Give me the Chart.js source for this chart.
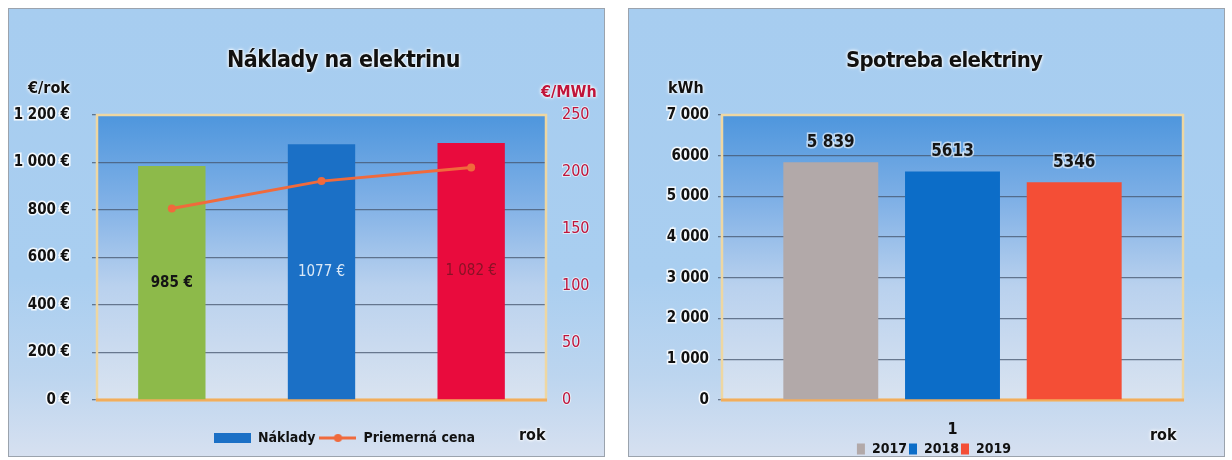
<!DOCTYPE html>
<html>
<head>
<meta charset="utf-8">
<script src="https://cdn.jsdelivr.net/npm/chart.js@4.4.1/dist/chart.umd.min.js"></script>
<style>
  body { margin: 0; background: #fff; width: 1232px; height: 460px; overflow: hidden; position: relative;
    font-family: 'Liberation Sans Narrow', 'DejaVu Sans Condensed', 'Noto Sans', sans-serif; }
  .panel { position: absolute; top: 8px; width: 597px; height: 449px; box-sizing: border-box;
    border: 1px solid #9ba3ad;
    background: linear-gradient(to bottom, #a7cdf0 0%, #a9cef0 60%, #bcd5ef 82%, #d6e0f0 100%); }
  .wrap { position: absolute; left: 0; top: 0; width: 595px; height: 447px; }
  .lbl { position: absolute; font-weight: bold; white-space: nowrap; line-height: 1; color: #111;
    text-shadow: 0 0 2px #fff, 0 0 3px #fff, 0 0 4px rgba(255,255,255,0.8); }
</style>
</head>
<body>
<div class="panel" style="left:8px"><div class="wrap"><canvas id="cost"></canvas></div></div>
<div class="panel" style="left:628px"><div class="wrap"><canvas id="usage"></canvas></div></div>

<div class="lbl" style="left:227px;top:48px;font-size:23px;letter-spacing:-0.5px">Náklady na elektrinu</div>
<div class="lbl" style="left:28px;top:80px;font-size:16px">€/rok</div>
<div class="lbl" style="left:541px;top:84px;font-size:16px;color:#c0143a">€/MWh</div>
<div class="lbl" style="left:519px;top:427px;font-size:16px">rok</div>

<div class="lbl" style="left:846px;top:49px;font-size:22px;letter-spacing:-0.7px">Spotreba elektriny</div>
<div class="lbl" style="left:668px;top:80px;font-size:16px">kWh</div>
<div class="lbl" style="left:1150px;top:427px;font-size:16px">rok</div>

<script>
  var FONT = "'Liberation Sans Narrow', 'DejaVu Sans Condensed', 'Noto Sans', sans-serif";

  // data
  var years = ['2017', '2018', '2019'];
  var costs = [985, 1077, 1082];
  var costLabels = ['985 €', '1077 €', '1 082 €'];
  var prices = [168, 192, 204];
  var usageCategory = ['1'];
  var consumption = [5839, 5613, 5346];
  var consumptionLabels = ['5 839', '5613', '5346'];
  var kwhTicks = ['0', '1 000', '2 000', '3 000', '4 000', '5 000', '6000', '7 000'];

  var costColors = ['#8dba4a', '#1b70c6', '#e90b3d'];
  var costLabelColors = ['#151515', '#dbe8f6', '#8a1226'];
  var priceColor = '#f06a3c';
  var usageColors = ['#b2a9a9', '#0c6dc8', '#f44e36'];

  function fmt(v) { return String(v).replace(/\B(?=(\d{3})+(?!\d))/g, ' '); }

  // plot area background + frame
  var plotBg = {
    id: 'plotBg',
    beforeDraw: function (chart) {
      var a = chart.chartArea, ctx = chart.ctx;
      var g = ctx.createLinearGradient(0, a.top, 0, a.bottom);
      g.addColorStop(0, '#4e96dd');
      g.addColorStop(0.3, '#7fb0e6');
      g.addColorStop(0.6, '#b9d1ee');
      g.addColorStop(1, '#d9e3f0');
      ctx.save();
      ctx.fillStyle = g;
      ctx.fillRect(a.left, a.top, a.right - a.left, a.bottom - a.top);
      ctx.restore();
    },
    beforeDatasetsDraw: function (chart) {
      var a = chart.chartArea, ctx = chart.ctx;
      ctx.save();
      ctx.lineWidth = 2.5;
      ctx.strokeStyle = '#eed7a2';
      ctx.strokeRect(a.left, a.top, a.right - a.left, a.bottom - a.top);
      ctx.strokeStyle = '#f2ad5c';
      ctx.lineWidth = 3;
      ctx.beginPath();
      ctx.moveTo(a.left - 1, a.bottom);
      ctx.lineTo(a.right + 1, a.bottom);
      ctx.stroke();
      ctx.restore();
    }
  };

  // value labels on bars
  var barLabels = {
    id: 'barLabels',
    afterDatasetsDraw: function (chart, args, opts) {
      var ctx = chart.ctx;
      ctx.save();
      ctx.textAlign = 'center';
      chart.data.datasets.forEach(function (ds, di) {
        if (ds.type === 'line') return;
        var meta = chart.getDatasetMeta(di);
        meta.data.forEach(function (bar, i) {
          var k = opts.perDataset ? di : i;
          ctx.font = (opts.weights[k] || 'bold') + ' ' + opts.size + 'px ' + FONT;
          ctx.fillStyle = opts.colors[k];
          if (opts.inside) {
            ctx.textBaseline = 'middle';
            ctx.fillText(opts.texts[k], bar.x, (bar.y + bar.base) / 2);
          } else {
            ctx.textBaseline = 'bottom';
            ctx.lineWidth = 3;
            ctx.strokeStyle = 'rgba(255,255,255,0.6)';
            ctx.strokeText(opts.texts[k], bar.x, bar.y - 11);
            ctx.fillText(opts.texts[k], bar.x, bar.y - 11);
          }
        });
      });
      ctx.restore();
    }
  };

  // move legend box after layout
  var legendShift = {
    id: 'legendShift',
    afterLayout: function (chart, args, opts) {
      var l = chart.legend;
      if (!l) return;
      l.left += opts.dx || 0; l.right += opts.dx || 0;
      l.top += opts.dy || 0; l.bottom += opts.dy || 0;
    }
  };

  function icon(kind) {
    var c = document.createElement('canvas');
    c.width = 37; c.height = 12;
    var x = c.getContext('2d');
    if (kind === 'bar') {
      x.fillStyle = costColors[1];
      x.fillRect(0, 1, 37, 10);
    } else {
      x.strokeStyle = priceColor; x.lineWidth = 3;
      x.beginPath(); x.moveTo(0, 6); x.lineTo(37, 6); x.stroke();
      x.fillStyle = priceColor;
      x.beginPath(); x.arc(18.5, 6, 4, 0, Math.PI * 2); x.fill();
    }
    return c;
  }
  var legendIcons = [icon('bar'), icon('line')];

  var tickFont = { family: FONT, size: 15, weight: 'bold' };

  new Chart(document.getElementById('cost'), {
    type: 'bar',
    data: {
      labels: years,
      datasets: [
        { type: 'bar', label: 'Náklady', data: costs, backgroundColor: costColors, yAxisID: 'y',
          barPercentage: 0.9, categoryPercentage: 0.5, order: 1 },
        { type: 'line', label: 'Priemerná cena', data: prices, borderColor: priceColor, backgroundColor: priceColor,
          borderWidth: 3, pointRadius: 4, pointBackgroundColor: priceColor, pointBorderWidth: 0,
          yAxisID: 'y1', order: 0, tension: 0 }
      ]
    },
    options: {
      responsive: true, maintainAspectRatio: false, animation: false,
      layout: { padding: { top: 106, left: 0, right: 0, bottom: 0 } },
      plugins: {
        tooltip: { enabled: false },
        legend: {
          position: 'bottom',
          labels: {
            usePointStyle: true, pointStyleWidth: 37, boxHeight: 12, padding: 4,
            color: '#111', font: { family: FONT, size: 14, weight: 'bold' },
            generateLabels: function (chart) {
              var items = Chart.defaults.plugins.legend.labels.generateLabels(chart);
              items.forEach(function (it) { it.pointStyle = legendIcons[it.datasetIndex]; });
              return items;
            },
            sort: function (a, b) { return a.datasetIndex - b.datasetIndex; }
          }
        },
        legendShift: { dx: 38, dy: -1 },
        barLabels: { inside: true, texts: costLabels, colors: costLabelColors,
          weights: ['bold', 'normal', 'normal'], size: 15 }
      },
      scales: {
        x: {
          ticks: { display: false },
          grid: { display: false, drawTicks: false },
          border: { display: false },
          afterFit: function (s) { s.height = 28; }
        },
        y: {
          min: 0, max: 1200,
          ticks: { stepSize: 200, color: '#111', font: tickFont, padding: 22,
            textStrokeColor: 'rgba(255,255,255,0.85)', textStrokeWidth: 3,
            callback: function (v) { return fmt(v) + ' €'; } },
          grid: { color: function (c) { return (c.tick.value === 0 || c.tick.value === 1200) ? 'rgba(0,0,0,0)' : 'rgba(70,85,110,0.75)'; },
            lineWidth: 1.3, tickLength: 5, tickColor: 'rgba(70,85,110,0.75)' },
          border: { display: false },
          afterFit: function (s) { s.width = 88; }
        },
        y1: {
          position: 'right', min: 0, max: 250,
          ticks: { stepSize: 50, color: '#c0143a', font: { family: FONT, size: 16 }, padding: 16,
            textStrokeColor: 'rgba(255,255,255,0.6)', textStrokeWidth: 2 },
          grid: { drawOnChartArea: false, drawTicks: false },
          border: { display: false },
          afterFit: function (s) { s.width = 58; }
        }
      }
    },
    plugins: [plotBg, barLabels, legendShift]
  });

  new Chart(document.getElementById('usage'), {
    type: 'bar',
    data: {
      labels: usageCategory,
      datasets: years.map(function (y, i) {
        return { label: y, data: [consumption[i]], backgroundColor: usageColors[i],
          barPercentage: 0.78, categoryPercentage: 0.792 };
      })
    },
    options: {
      responsive: true, maintainAspectRatio: false, animation: false,
      layout: { padding: { top: 106, left: 0, right: 41, bottom: 0 } },
      plugins: {
        tooltip: { enabled: false },
        legend: {
          position: 'bottom', maxHeight: 16,
          labels: { boxWidth: 8, boxHeight: 11, padding: 2, color: '#111',
            font: { family: FONT, size: 14, weight: 'bold' } }
        },
        legendShift: { dx: 28, dy: 0 },
        barLabels: { perDataset: true, texts: consumptionLabels, colors: ['#151515', '#151515', '#151515'],
          weights: ['bold', 'bold', 'bold'], size: 17 }
      },
      scales: {
        x: {
          ticks: { color: '#111', font: { family: FONT, size: 16, weight: 'bold' }, padding: 20 },
          grid: { display: false, drawTicks: false },
          border: { display: false },
          afterFit: function (s) { s.height = 40; }
        },
        y: {
          min: 0, max: 7000,
          ticks: { stepSize: 1000, color: '#111', font: tickFont, padding: 9,
            textStrokeColor: 'rgba(255,255,255,0.85)', textStrokeWidth: 3,
            callback: function (v) { return kwhTicks[Math.round(v / 1000)]; } },
          grid: { color: function (c) { return (c.tick.value === 0 || c.tick.value === 7000) ? 'rgba(0,0,0,0)' : 'rgba(70,85,110,0.75)'; },
            lineWidth: 1.3, tickLength: 4, tickColor: 'rgba(70,85,110,0.75)' },
          border: { display: false },
          afterFit: function (s) { s.width = 93; }
        }
      }
    },
    plugins: [plotBg, barLabels, legendShift]
  });
</script>
</body>
</html>
